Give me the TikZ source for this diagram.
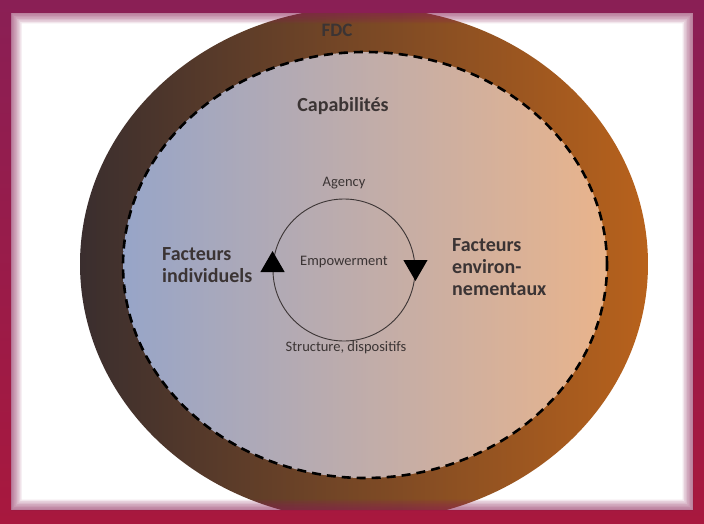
\documentclass[tikz,border=0pt]{standalone}
\usepackage{fontspec}
\setmainfont{Carlito}
\usetikzlibrary{shapes.geometric}
\definecolor{outL}{HTML}{3A2E2E}
\definecolor{outM}{HTML}{8A5533}
\definecolor{outR}{HTML}{B8621C}
\definecolor{inL}{HTML}{97A5C8}
\definecolor{inM}{HTML}{CCABB5}
\definecolor{inR}{HTML}{E9B48C}
\definecolor{frameT}{HTML}{8A1F55}
\definecolor{frameB}{HTML}{A8183E}
\definecolor{txt}{HTML}{3B3434}
\tikzset{
  lbl/.style={text=txt, inner sep=0pt},
  big/.style={lbl, font=\fontsize{20}{22}\selectfont\bfseries, align=left},
  small/.style={lbl, font=\fontsize{14.5}{16}\selectfont},
  tri/.style={regular polygon, regular polygon sides=3, fill=black, inner sep=0pt, minimum size=28pt},
}
\begin{document}
\begin{tikzpicture}[x=1pt,y=-1pt]
\useasboundingbox (0,0) rectangle (704,524);
\fill[white] (0,0) rectangle (704,524);
% outer ellipse
\shade[left color=outL, middle color=outM, right color=outR] (364,264) ellipse [x radius=284pt, y radius=257pt];
% inner ellipse
\shade[left color=inL, middle color=inM, right color=inR] (365,265) ellipse [x radius=242pt, y radius=213pt];
\draw[black, line width=2.6pt, dash pattern=on 9pt off 6pt] (365,265) ellipse [x radius=242pt, y radius=213pt];
% labels
\node[lbl, font=\fontsize{19}{21}\selectfont\bfseries] (fdc) at (337,30) {FDC};
\node[lbl, font=\fontsize{20}{22}\selectfont\bfseries] (cap) at (343,106) {Capabilités};
\node[draw=txt, line width=0.9pt, circle, minimum size=142pt, inner sep=0pt] (cyc) at (344,270) {};
\node[small] (agency) at (344,183) {Agency};
\node[small] (emp) at (344,262) {Empowerment};
\node[small] (struct) at (346,348) {Structure, dispositifs};
\node[tri] (tl) at ([yshift=5pt]cyc.west) {};
\node[tri, shape border rotate=180] (tr) at ([yshift=3pt]cyc.east) {};
\node[big, anchor=west] (fi) at (162,265) {Facteurs\\individuels};
\node[big, anchor=west] (fe) at (452,267) {Facteurs\\environ-\\nementaux};
% frame
\shade[top color=frameT, bottom color=frameB, even odd rule] (0,0) rectangle (704,524) (11,13) rectangle (693,510);
\foreach \d in {0,1.5,3,4.5,6,7.5,9,10.5} {
  \fill[frameT, opacity=0.11, even odd rule] (11,13) rectangle (693,510) (11+\d,13+\d) rectangle (693-\d,510-\d);
}
\end{tikzpicture}
\end{document}
